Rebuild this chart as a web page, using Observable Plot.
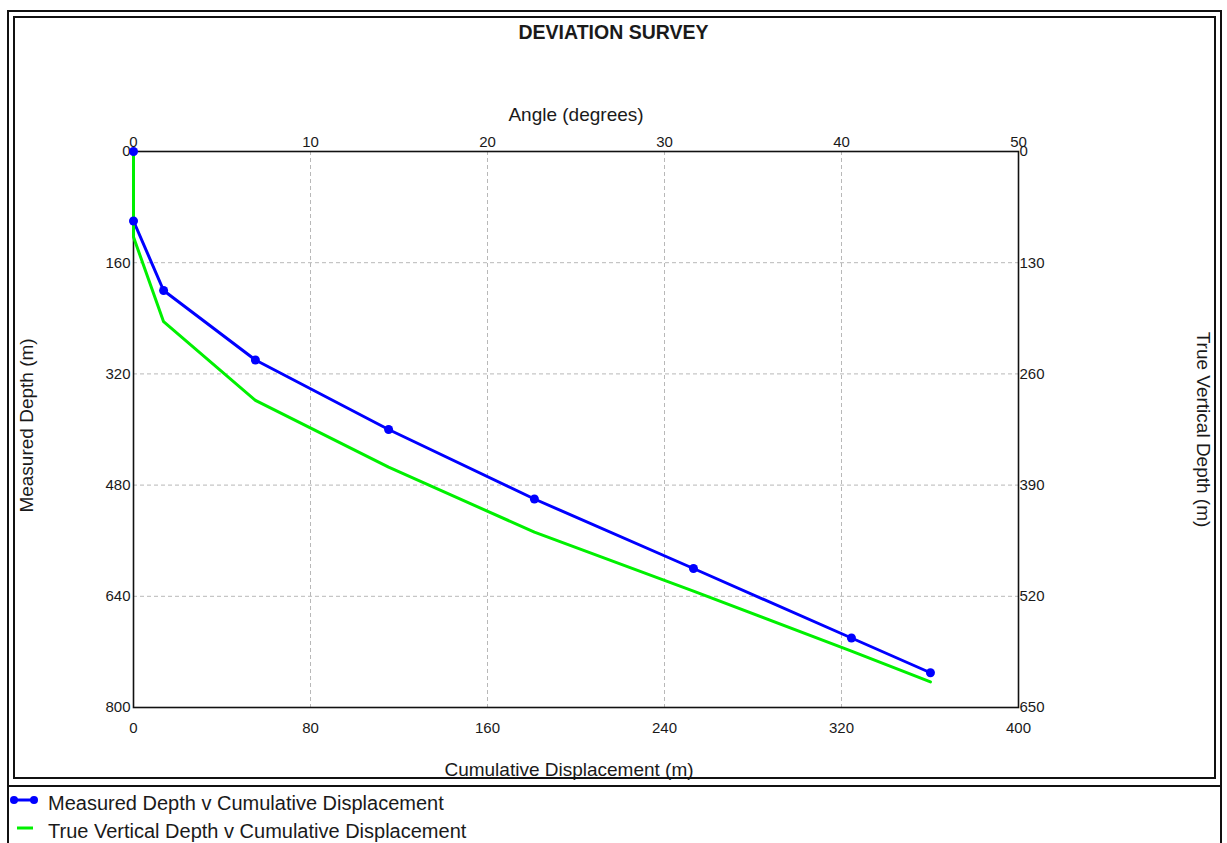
<!DOCTYPE html>
<html>
<head>
<meta charset="utf-8">
<script src="https://cdn.jsdelivr.net/npm/d3@7"></script>
<script src="https://cdn.jsdelivr.net/npm/@observablehq/plot@0.6"></script>
<style>
  html, body { margin: 0; padding: 0; background: #fff; overflow: hidden; }
  #wrap { position: relative; width: 1227px; height: 843px; overflow: hidden; font-family: "Liberation Sans", Arial, sans-serif; color: #1a1a1a; }
  #chart { position: absolute; left: 0; top: 0; }
  .box { position: absolute; box-sizing: border-box; pointer-events: none; }
  .title { position: absolute; left: 0; width: 1227px; top: 20px; text-align: center; font-weight: bold; font-size: 19.5px; line-height: 24px; }
  .leg { position: absolute; left: 48px; font-size: 20px; line-height: 22px; white-space: nowrap; }
  .sw { position: absolute; }
</style>
</head>
<body>
<div id="wrap">
  <div id="chart"></div>
  <div class="title">DEVIATION SURVEY</div>
  <div class="box" style="left:7px;top:10px;width:1215px;height:860px;border:2px solid #111;"></div>
  <div class="box" style="left:13px;top:16px;width:1203px;height:763px;border:2px solid #111;"></div>
  <div class="box" style="left:7px;top:785px;width:1215px;height:2px;background:#111;"></div>
  <svg class="sw" style="left:8px;top:792px" width="34" height="16">
    <line x1="6" y1="8" x2="26" y2="8" stroke="#0000ff" stroke-width="3"/>
    <circle cx="6" cy="8" r="4" fill="#0000ff"/>
    <circle cx="26" cy="8" r="4" fill="#0000ff"/>
  </svg>
  <div class="leg" style="top:792px">Measured Depth v Cumulative Displacement</div>
  <svg class="sw" style="left:8px;top:820px" width="34" height="16">
    <line x1="9" y1="8" x2="25" y2="8" stroke="#00f000" stroke-width="3"/>
  </svg>
  <div class="leg" style="top:820px">True Vertical Depth v Cumulative Displacement</div>
</div>
<script>
// ---- data ----
const measuredDepth = [0, 100, 200, 300, 400, 500, 600, 700, 750];
const cumDisplacement = [0, 0, 13.6, 55.1, 115.3, 181.2, 253.1, 324.5, 360.2];
const trueVerticalDepth = [0, 100, 199, 291, 369, 445, 514, 584, 620];

// ---- tick labels ----
const dispTicks = [0, 80, 160, 240, 320, 400];
const angleTicks = [0, 10, 20, 30, 40, 50];
const mdTicks = [0, 160, 320, 480, 640, 800];
const tvdTicks = [0, 130, 260, 390, 520, 650];

const dispMax = dispTicks[dispTicks.length - 1];
const angleMax = angleTicks[angleTicks.length - 1];
const mdMax = mdTicks[mdTicks.length - 1];
const tvdMax = tvdTicks[tvdTicks.length - 1];

// secondary axes mapped onto primary scales
const angleToDisp = a => a * dispMax / angleMax;
const tvdToMd = t => t * mdMax / tvdMax;

const rows = measuredDepth.map((md, i) => ({
  md, disp: cumDisplacement[i], tvd: trueVerticalDepth[i], tvdOnMd: tvdToMd(trueVerticalDepth[i])
}));

const tickFont = 15;
const labelFont = 19;
const ink = "#1a1a1a";

const chart = Plot.plot({
  width: 1227,
  height: 780,
  marginLeft: 133,
  marginRight: 209,
  marginTop: 151,
  marginBottom: 73,
  style: { fontFamily: "Liberation Sans, Arial, sans-serif", color: ink, background: "transparent", overflow: "visible" },
  x: { domain: [0, dispMax], axis: null },
  y: { domain: [0, mdMax], reverse: true, axis: null },
  marks: [
    Plot.gridX(dispTicks.slice(1, -1), { stroke: "#b8b8b8", strokeOpacity: 1, strokeDasharray: "4,3" }),
    Plot.gridY(mdTicks.slice(1, -1), { stroke: "#b8b8b8", strokeOpacity: 1, strokeDasharray: "4,3" }),
    Plot.frame({ stroke: "#111", strokeWidth: 1.6 }),
    Plot.axisX(dispTicks, { anchor: "bottom", tickSize: 0, tickPadding: 15, fontSize: tickFont, label: null }),
    Plot.axisX(angleTicks.map(angleToDisp), { anchor: "top", tickSize: 0, tickPadding: 5, fontSize: tickFont, label: null,
      tickFormat: d => Math.round(d * angleMax / dispMax) }),
    Plot.axisY(mdTicks, { anchor: "left", tickSize: 0, tickPadding: 3, fontSize: tickFont, label: null }),
    Plot.axisY(tvdTicks.map(tvdToMd), { anchor: "right", tickSize: 0, tickPadding: 1, fontSize: tickFont, label: null,
      tickFormat: d => Math.round(d * tvdMax / mdMax) }),
    Plot.line(rows, { x: "disp", y: "md", stroke: "#0000ff", strokeWidth: 3 }),
    Plot.line(rows, { x: "disp", y: "tvdOnMd", stroke: "#00f000", strokeWidth: 3 }),
    Plot.dot(rows, { x: "disp", y: "md", r: 4.5, fill: "#0000ff", stroke: "none" }),
    Plot.text(["Angle (degrees)"], { frameAnchor: "top", dy: -44, fontSize: labelFont, fill: ink }),
    Plot.text(["Cumulative Displacement (m)"], { frameAnchor: "bottom", dy: 68, dx: -7, fontSize: labelFont, fill: ink }),
    Plot.text(["Measured Depth (m)"], { frameAnchor: "left", dx: -107, dy: -4, rotate: -90, textAnchor: "middle", fontSize: labelFont, fill: ink }),
    Plot.text(["True Vertical Depth (m)"], { frameAnchor: "right", dx: 185, rotate: 90, textAnchor: "middle", fontSize: labelFont, fill: ink })
  ]
});
document.getElementById("chart").appendChild(chart);
</script>
</body>
</html>
